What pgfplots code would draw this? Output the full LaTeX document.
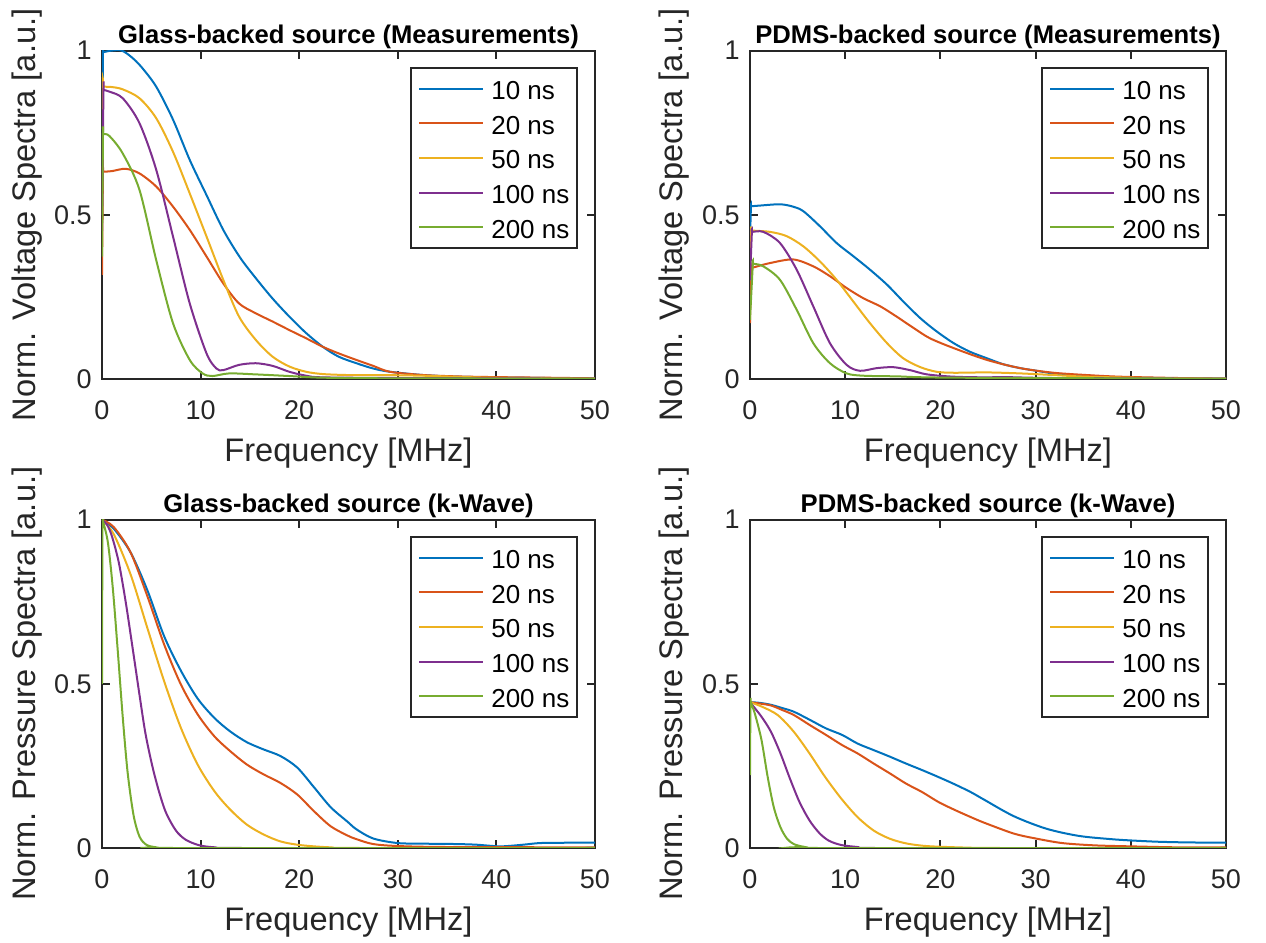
\documentclass[border=0pt]{standalone}
\usepackage{fontspec}
\setmainfont{Liberation Sans}
\usepackage{pgfplots}
\pgfplotsset{compat=1.18}
\definecolor{c1}{rgb}{0,0.447,0.741}
\definecolor{c2}{rgb}{0.85,0.325,0.098}
\definecolor{c3}{rgb}{0.929,0.694,0.125}
\definecolor{c4}{rgb}{0.494,0.184,0.556}
\definecolor{c5}{rgb}{0.466,0.674,0.188}
\pgfplotsset{
  panel/.style={
    scale only axis, height=164.2pt,
    xmin=0, xmax=50, ymin=0, ymax=1,
    xtick={0,10,20,30,40,50}, ytick={0,0.5,1}, yticklabels={0,0.5,1},
    /pgf/number format/assume math mode=true,
    axis line style={black!85, line width=1pt},
    tick style={black!85, line width=1pt},
    major tick length=4pt,
    tick label style={font=\fontsize{13.5}{15}\selectfont, text=black!85},
    xticklabel style={anchor=base, yshift=-20.5pt},
    yticklabel style={anchor=east, inner sep=0pt, xshift=-5pt},
    label style={font=\fontsize{16.3}{18}\selectfont, text=black!85},
    xlabel={Frequency [MHz]},
    xlabel style={at={(axis description cs:0.5,0)}, anchor=base, yshift=-41.3pt},
    title style={font=\bfseries\fontsize{12.8}{14}\selectfont, at={(axis description cs:0.5,1)}, anchor=base, yshift=-2.5pt},
    legend cell align=left,
    legend style={at={(1,1)}, anchor=north east, xshift=-8.5pt, yshift=-8.2pt,
      draw=black!85, line width=1pt, fill=white,
      font=\fontsize{13}{15}\selectfont, text=black,
      inner xsep=3.8pt, inner ysep=1.8pt, row sep=0pt,
      nodes={inner sep=0pt, text height=14.05pt, text depth=3.25pt}},
    legend image code/.code={\draw[#1,line width=1pt] (0pt,0pt) -- (31.7pt,0pt); \path (35.5pt,0pt);},
    every axis plot/.append style={line width=1pt, smooth, tension=0.5},
  }
}
\begin{document}
\begin{tikzpicture}
\useasboundingbox (0,0) rectangle (633pt,471.5pt);
% ---------- Top left ----------
\begin{axis}[panel, width=246.5pt, at={(51pt,282pt)}, anchor=south west,
  title={Glass-backed source (Measurements)},
  ylabel={Norm. Voltage Spectra [a.u.]},
  ylabel style={at={(axis description cs:-0.1359,0.5)}, anchor=base}]
\addplot[c1] coordinates {(0,0.5) (0.1,0.99) (0.15,0.995) (1,1.0) (2,1.0) (3,0.98) (4,0.95) (5.5,0.89) (7.2,0.79) (8.9,0.667) (10.6,0.56) (12.3,0.454) (14,0.37) (15.6,0.307) (17.3,0.245) (19,0.19) (20.7,0.14) (22.4,0.098) (24,0.068) (25.8,0.048) (27.5,0.032) (29.2,0.022) (32.6,0.012) (36,0.007) (40,0.005) (45,0.003) (50,0.002)};
\addlegendentry{10 ns}
\addplot[c2] coordinates {(0,0.317) (0.1,0.63) (0.15,0.631) (1,0.633) (2.4,0.64) (3.8,0.626) (5.5,0.586) (7.2,0.525) (8.9,0.454) (10.6,0.373) (12.3,0.291) (13.9,0.23) (15.6,0.2) (17.3,0.175) (19,0.149) (20.7,0.124) (22.4,0.098) (24,0.078) (25.8,0.058) (27.5,0.04) (29.2,0.022) (32.6,0.012) (36,0.008) (39.3,0.006) (45,0.004) (50,0.002)};
\addlegendentry{20 ns}
\addplot[c3] coordinates {(0,0.5) (0.1,0.89) (0.15,0.89) (1,0.889) (2.1,0.882) (3.8,0.855) (5.5,0.794) (7.2,0.692) (8.9,0.565) (10.6,0.434) (12.3,0.302) (13.9,0.19) (15.6,0.119) (17.3,0.068) (19,0.038) (20.7,0.022) (22.4,0.015) (25,0.012) (28,0.012) (32.6,0.01) (39.3,0.004) (50,0.001)};
\addlegendentry{50 ns}
\addplot[c4] coordinates {(0,0.45) (0.15,0.88) (0.2,0.88) (0.75,0.875) (2.1,0.855) (3.8,0.779) (5.5,0.637) (7.2,0.434) (8.9,0.23) (10.6,0.078) (11.6,0.032) (12.3,0.027) (13.9,0.043) (15.6,0.048) (17.3,0.04) (19,0.022) (20.7,0.01) (22.4,0.005) (30,0.003) (50,0.001)};
\addlegendentry{100 ns}
\addplot[c5] coordinates {(0,0.373) (0.1,0.746) (0.15,0.746) (0.75,0.74) (2.1,0.687) (3.8,0.576) (5.5,0.362) (7.2,0.17) (8.9,0.058) (10.2,0.017) (11.2,0.009) (12.9,0.017) (15.6,0.014) (19,0.009) (22.4,0.004) (30,0.002) (50,0.001)};
\addlegendentry{200 ns}
\end{axis}
% ---------- Top right ----------
\begin{axis}[panel, width=238pt, at={(375pt,282pt)}, anchor=south west,
  title={PDMS-backed source (Measurements)},
  ylabel={Norm. Voltage Spectra [a.u.]},
  ylabel style={at={(axis description cs:-0.1408,0.5)}, anchor=base}]
\addplot[c1] coordinates {(0,0.42) (0.1,0.526) (0.15,0.526) (1,0.528) (3.15,0.532) (4.5,0.525) (5.6,0.511) (7.35,0.465) (9.1,0.414) (10.85,0.374) (12.6,0.333) (14.4,0.287) (16.1,0.236) (17.9,0.185) (19.6,0.145) (21.4,0.109) (23.1,0.083) (24.9,0.063) (26.6,0.045) (28.4,0.033) (30.1,0.025) (31.9,0.017) (35.4,0.01) (38.9,0.005) (45,0.002) (50,0.001)};
\addlegendentry{10 ns}
\addplot[c2] coordinates {(0,0.17) (0.1,0.338) (0.15,0.338) (2.1,0.353) (4.55,0.364) (6.65,0.343) (8.4,0.313) (10.15,0.277) (11.9,0.246) (13.7,0.221) (15.4,0.19) (17.2,0.155) (18.9,0.124) (21.4,0.094) (24.9,0.058) (28.4,0.033) (31.9,0.019) (35.4,0.012) (38.9,0.007) (45,0.003) (50,0.001)};
\addlegendentry{20 ns}
\addplot[c3] coordinates {(0,0.3) (0.1,0.452) (0.15,0.452) (2.1,0.448) (3.85,0.435) (5.6,0.404) (7.35,0.358) (9.1,0.302) (10.85,0.236) (12.6,0.17) (14.4,0.109) (16.1,0.063) (17.9,0.036) (19.6,0.022) (21.4,0.019) (24.9,0.02) (28.4,0.017) (31.9,0.012) (35.4,0.007) (42,0.003) (50,0.001)};
\addlegendentry{50 ns}
\addplot[c4] coordinates {(0,0.3) (0.2,0.448) (0.25,0.448) (1.4,0.448) (3.15,0.414) (4.9,0.333) (6.65,0.221) (8.4,0.109) (10.15,0.043) (11.55,0.025) (13.3,0.033) (15.05,0.036) (16.8,0.027) (18.6,0.014) (21.4,0.007) (24.9,0.005) (26.6,0.006) (31.9,0.003) (50,0.001)};
\addlegendentry{100 ns}
\addplot[c5] coordinates {(0,0.18) (0.3,0.351) (0.35,0.351) (1.4,0.343) (3.15,0.302) (4.9,0.211) (6.65,0.109) (8.4,0.048) (10.15,0.017) (11.9,0.01) (15.4,0.008) (21.4,0.004) (50,0.001)};
\addlegendentry{200 ns}
\end{axis}
% ---------- Bottom left ----------
\begin{axis}[panel, width=246.5pt, at={(51pt,47.5pt)}, anchor=south west,
  title={Glass-backed source (k-Wave)},
  ylabel={Norm. Pressure Spectra [a.u.]},
  ylabel style={at={(axis description cs:-0.1359,0.5)}, anchor=base}]
\addplot[c1] coordinates {(0,1) (1.2,0.972) (2.9,0.9) (4.6,0.785) (6.3,0.645) (8.0,0.54) (9.7,0.455) (11.4,0.396) (13.0,0.355) (14.7,0.322) (16.4,0.3) (18.1,0.28) (19.8,0.245) (21.5,0.185) (23.2,0.124) (24.9,0.08) (25.8,0.057) (27.5,0.029) (30,0.015) (33,0.013) (36,0.012) (38,0.01) (40.4,0.005) (42.7,0.01) (44.4,0.015) (47,0.016) (50,0.016)};
\addlegendentry{10 ns}
\addplot[c2] coordinates {(0,1) (1.2,0.977) (2.9,0.9) (4.6,0.767) (6.3,0.62) (8.0,0.498) (9.7,0.407) (11.4,0.34) (13.0,0.295) (14.7,0.254) (16.4,0.224) (18.1,0.198) (19.8,0.163) (21.5,0.112) (23.2,0.066) (24.9,0.038) (25.8,0.027) (27.5,0.012) (30,0.006) (35,0.003) (50,0.002)};
\addlegendentry{20 ns}
\addplot[c3] coordinates {(0,1) (1.2,0.955) (2.9,0.833) (4.6,0.67) (6.3,0.508) (8.0,0.366) (9.7,0.254) (11.4,0.173) (13.0,0.117) (14.7,0.071) (16.4,0.041) (18.1,0.02) (19.8,0.01) (21.5,0.005) (23.2,0.002) (26,0) (50,0)};
\addlegendentry{50 ns}
\addplot[c4] coordinates {(0,1) (0.5,0.985) (1.0,0.95) (1.7,0.87) (2.4,0.75) (3.1,0.61) (3.8,0.467) (4.4,0.35) (5.1,0.25) (5.8,0.17) (6.5,0.107) (7.5,0.053) (8.5,0.025) (9.9,0.008) (11.5,0.002) (14,0) (50,0)};
\addlegendentry{100 ns}
\addplot[c5] coordinates {(0,0.5) (0.05,1) (0.1,0.995) (0.6,0.93) (1.1,0.79) (1.6,0.6) (2.1,0.4) (2.6,0.23) (3.2,0.1) (3.8,0.035) (4.5,0.01) (5.5,0.002) (7,0) (50,0)};
\addlegendentry{200 ns}
\end{axis}
% ---------- Bottom right ----------
\begin{axis}[panel, width=238pt, at={(375pt,47.5pt)}, anchor=south west,
  title={PDMS-backed source (k-Wave)},
  ylabel={Norm. Pressure Spectra [a.u.]},
  ylabel style={at={(axis description cs:-0.1408,0.5)}, anchor=base}]
\addplot[c1] coordinates {(0,0.444) (1,0.442) (2.2,0.436) (3.4,0.426) (4.6,0.415) (6.3,0.39) (8.0,0.364) (9.7,0.344) (11.3,0.318) (13.0,0.298) (14.7,0.278) (16.4,0.257) (18.1,0.237) (19.8,0.216) (21.5,0.194) (23.2,0.17) (24.6,0.147) (27.7,0.097) (31.1,0.059) (34.5,0.037) (37.9,0.027) (40,0.023) (42.9,0.019) (46,0.017) (50,0.016)};
\addlegendentry{10 ns}
\addplot[c2] coordinates {(0,0.444) (1,0.44) (2.2,0.434) (3.4,0.42) (4.6,0.405) (6.3,0.374) (8.0,0.344) (9.7,0.313) (11.3,0.288) (13.0,0.257) (14.7,0.227) (16.4,0.196) (18.1,0.17) (19.8,0.14) (21.5,0.116) (23.2,0.094) (24.6,0.077) (27.7,0.044) (30,0.029) (32.8,0.015) (36.2,0.008) (40,0.005) (45,0.002) (50,0.002)};
\addlegendentry{20 ns}
\addplot[c3] coordinates {(0,0.444) (1.2,0.431) (2.9,0.405) (4.6,0.354) (6.25,0.288) (7.9,0.216) (9.6,0.15) (11.3,0.094) (13.0,0.053) (14.7,0.028) (16.4,0.014) (18.1,0.007) (19.8,0.004) (23,0.001) (26,0) (50,0)};
\addlegendentry{50 ns}
\addplot[c4] coordinates {(0,0.444) (1.2,0.4) (2.2,0.354) (3.2,0.288) (4.2,0.211) (5.2,0.14) (6.25,0.084) (7.3,0.045) (8.3,0.022) (9.6,0.009) (11.3,0.003) (13,0) (50,0)};
\addlegendentry{100 ns}
\addplot[c5] coordinates {(0,0.222) (0.05,0.444) (0.1,0.442) (0.5,0.41) (1.2,0.33) (1.86,0.216) (2.5,0.124) (3.2,0.063) (3.9,0.028) (4.6,0.012) (5.6,0.004) (7,0) (50,0)};
\addlegendentry{200 ns}
\end{axis}
\end{tikzpicture}
\end{document}
